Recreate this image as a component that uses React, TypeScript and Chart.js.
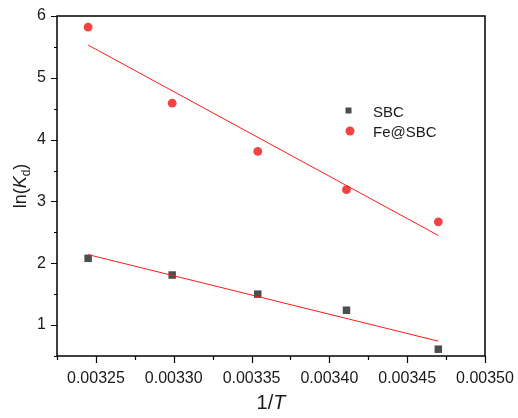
import React, { useEffect, useRef } from "react";
import { Chart, registerables } from "chart.js";

Chart.register(...registerables);

const invT = [0.003245, 0.003299, 0.003354, 0.003411, 0.00347];
const sbcValues = [2.08, 1.81, 1.5, 1.24, 0.61];
const feValues = [5.82, 4.59, 3.81, 3.19, 2.67];
const fitX = [0.003245, 0.00347];
const sbcFit = [2.14, 0.74];
const feFit = [5.53, 2.45];
const xMajorTicks = [0.00325, 0.0033, 0.00335, 0.0034, 0.00345, 0.0035];
const xMinorTicks = [0.003225, 0.003275, 0.003325, 0.003375, 0.003425, 0.003475];
const yMajorTicks = [1, 2, 3, 4, 5, 6];
const yMinorTicks = [0.5, 1.5, 2.5, 3.5, 4.5, 5.5];
const legendLabels = ["SBC", "Fe@SBC"];

const SBC_COLOR = "#4d4d4d";
const FE_COLOR = "#f04444";
const FIT_COLOR = "#ff1a1a";
const FONT = "Liberation Sans, Arial, sans-serif";

const framePlugin = {
  id: "frame",
  afterDraw(chart: any) {
    const { ctx, chartArea } = chart;
    const { left, right, top, bottom } = chartArea;
    const xs = chart.scales.x;
    const ys = chart.scales.y;
    ctx.save();
    ctx.strokeStyle = "#000";
    ctx.lineWidth = 1.5;
    ctx.strokeRect(left, top, right - left, bottom - top);
    ctx.lineWidth = 1.2;
    ctx.beginPath();
    yMajorTicks.forEach((v) => {
      const p = Math.round(ys.getPixelForValue(v)) + 0.5;
      ctx.moveTo(left, p);
      ctx.lineTo(left - 6, p);
    });
    yMinorTicks.forEach((v) => {
      const p = Math.round(ys.getPixelForValue(v)) + 0.5;
      ctx.moveTo(left, p);
      ctx.lineTo(left - 3, p);
    });
    xMajorTicks.forEach((v) => {
      const p = Math.round(xs.getPixelForValue(v)) + 0.5;
      ctx.moveTo(p, bottom);
      ctx.lineTo(p, bottom + 7);
    });
    xMinorTicks.forEach((v) => {
      const p = Math.round(xs.getPixelForValue(v)) + 0.5;
      ctx.moveTo(p, bottom);
      ctx.lineTo(p, bottom + 4);
    });
    ctx.stroke();

    // Axis titles
    ctx.fillStyle = "#1a1a1a";
    ctx.textBaseline = "alphabetic";
    const xf = `20px ${FONT}`;
    const xfi = `italic 20px ${FONT}`;
    ctx.font = xf;
    const w1 = ctx.measureText("1/").width;
    ctx.font = xfi;
    const w2 = ctx.measureText("T").width;
    const cx = (left + right) / 2;
    const sx = cx - (w1 + w2) / 2;
    ctx.font = xf;
    ctx.fillText("1/", sx, 409);
    ctx.font = xfi;
    ctx.fillText("T", sx + w1, 409);

    const yf = `18px ${FONT}`;
    const yfi = `italic 18px ${FONT}`;
    const ysub = `12px ${FONT}`;
    ctx.save();
    ctx.translate(26, (top + bottom) / 2);
    ctx.rotate(-Math.PI / 2);
    ctx.font = yf;
    const a = ctx.measureText("ln(").width;
    ctx.font = yfi;
    const b = ctx.measureText("K").width;
    ctx.font = ysub;
    const c = ctx.measureText("d").width;
    ctx.font = yf;
    const d = ctx.measureText(")").width;
    let px = -(a + b + c + d) / 2;
    ctx.font = yf;
    ctx.fillText("ln(", px, 0);
    px += a;
    ctx.font = yfi;
    ctx.fillText("K", px, 0);
    px += b;
    ctx.font = ysub;
    ctx.fillText("d", px, 4);
    px += c;
    ctx.font = yf;
    ctx.fillText(")", px, 0);
    ctx.restore();

    // Legend
    ctx.fillStyle = SBC_COLOR;
    ctx.fillRect(345.5, 107.5, 6, 6);
    ctx.fillStyle = FE_COLOR;
    ctx.beginPath();
    ctx.arc(350, 131, 4.5, 0, Math.PI * 2);
    ctx.fill();
    ctx.fillStyle = "#1a1a1a";
    ctx.font = `15px ${FONT}`;
    ctx.fillText(legendLabels[0], 373, 117);
    ctx.fillText(legendLabels[1], 373, 137);
    ctx.restore();
  },
};

const zeroPad = (s: any) => {
  s.paddingLeft = 0;
  s.paddingRight = 0;
  s.paddingTop = 0;
  s.paddingBottom = 0;
};

export default function App() {
  const ref = useRef<HTMLCanvasElement | null>(null);
  useEffect(() => {
    document.body.style.margin = "0";
    if (!ref.current) return;
    const chart = new Chart(ref.current, {
      type: "scatter",
      data: {
        datasets: [
          {
            label: "SBC fit",
            data: fitX.map((x, i) => ({ x, y: sbcFit[i] })),
            showLine: true,
            borderColor: FIT_COLOR,
            borderWidth: 1,
            pointRadius: 0,
          },
          {
            label: "Fe@SBC fit",
            data: fitX.map((x, i) => ({ x, y: feFit[i] })),
            showLine: true,
            borderColor: FIT_COLOR,
            borderWidth: 1,
            pointRadius: 0,
          },
          {
            label: legendLabels[0],
            data: invT.map((x, i) => ({ x, y: sbcValues[i] })),
            pointStyle: "rect",
            pointRadius: 5.3,
            backgroundColor: SBC_COLOR,
            borderWidth: 0,
          },
          {
            label: legendLabels[1],
            data: invT.map((x, i) => ({ x, y: feValues[i] })),
            pointStyle: "circle",
            pointRadius: 4.4,
            backgroundColor: FE_COLOR,
            borderWidth: 0,
          },
        ],
      },
      options: {
        animation: false,
        responsive: false,
        layout: { padding: { left: 0, right: 33, top: 16, bottom: 0 } },
        plugins: { legend: { display: false }, tooltip: { enabled: false } },
        scales: {
          x: {
            type: "linear",
            min: 0.003225,
            max: 0.0035,
            afterBuildTicks: (s: any) => {
              s.ticks = xMajorTicks.map((v) => ({ value: v }));
            },
            afterFit: (s: any) => {
              s.height = 62;
              zeroPad(s);
            },
            grid: { display: false, drawTicks: false },
            border: { display: false },
            ticks: {
              padding: 13,
              color: "#1a1a1a",
              font: { family: FONT, size: 16 },
              maxRotation: 0,
              autoSkip: false,
              callback: (v: any) => Number(v).toFixed(5),
            },
          },
          y: {
            type: "linear",
            min: 0.5,
            max: 6,
            afterBuildTicks: (s: any) => {
              s.ticks = yMajorTicks.map((v) => ({ value: v }));
            },
            afterFit: (s: any) => {
              s.width = 57;
              zeroPad(s);
            },
            grid: { display: false, drawTicks: false },
            border: { display: false },
            ticks: {
              padding: 11,
              color: "#1a1a1a",
              font: { family: FONT, size: 16 },
              autoSkip: false,
              callback: (v: any) => String(v),
            },
          },
        },
      },
      plugins: [framePlugin],
    });
    return () => chart.destroy();
  }, []);
  return (
    <div style={{ width: 518, height: 418 }}>
      <canvas ref={ref} width={518} height={418} style={{ width: 518, height: 418, display: "block" }} />
    </div>
  );
}
